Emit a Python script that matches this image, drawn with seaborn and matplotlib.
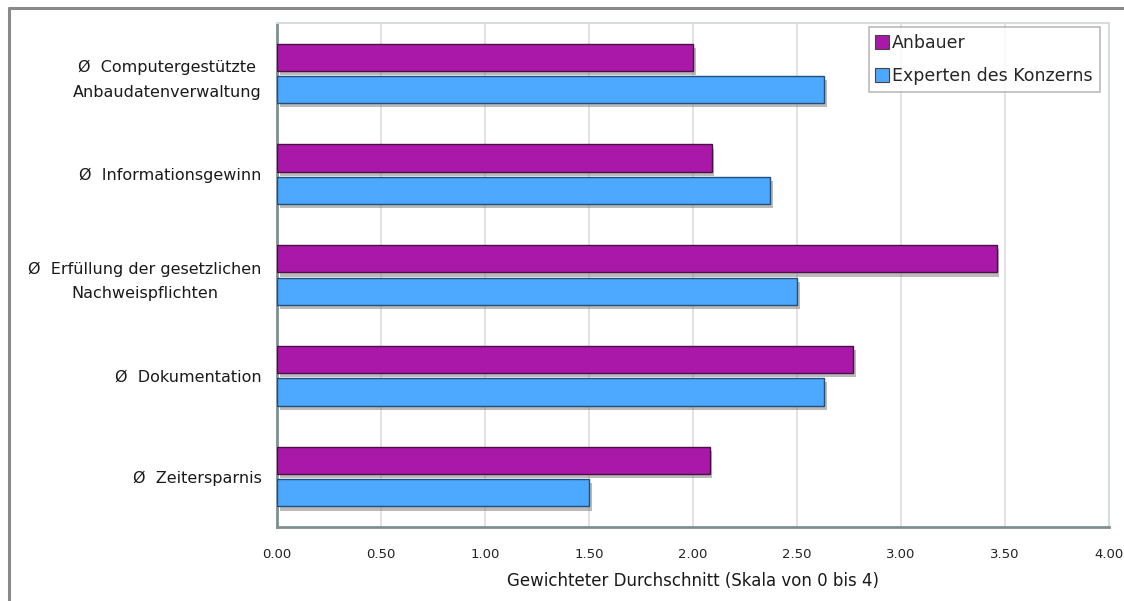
import matplotlib
matplotlib.use("Agg")
import matplotlib.pyplot as plt
import matplotlib.patheffects as pe
from matplotlib.lines import Line2D
from matplotlib.ticker import FixedLocator
import numpy as np
import pandas as pd
import seaborn as sns

# Weighted averages (scale 0 to 4) per category
categories = [
    "Ø  Computergestützte\nAnbaudatenverwaltung",
    "Ø  Informationsgewinn",
    "Ø  Erfüllung der gesetzlichen\nNachweispflichten",
    "Ø  Dokumentation",
    "Ø  Zeitersparnis",
]
groups = ["Anbauer", "Experten des Konzerns"]
anbauer = [2.00, 2.09, 3.46, 2.77, 2.08]
experten = [2.63, 2.37, 2.50, 2.63, 1.50]
x_ticks = [0.0, 0.5, 1.0, 1.5, 2.0, 2.5, 3.0, 3.5, 4.0]
x_label = "Gewichteter Durchschnitt (Skala von 0 bis 4)"

colors = {"Anbauer": "#AA18AA", "Experten des Konzerns": "#4DA8FF"}
edges = {"Anbauer": "#4a1044", "Experten des Konzerns": "#22507a"}

df = pd.DataFrame({
    "Kategorie": categories * 2,
    "Wert": anbauer + experten,
    "Gruppe": [groups[0]] * len(categories) + [groups[1]] * len(categories),
})

sns.set_style("white")
plt.rcParams["font.family"] = ["DejaVu Sans"]

fig = plt.figure(figsize=(11.24, 6.01), dpi=100)
ax = fig.add_axes([277 / 1124, 1 - 527 / 601, (1109 - 277) / 1124, (527 - 23) / 601])

sns.barplot(data=df, y="Kategorie", x="Wert", hue="Gruppe", orient="h",
            order=categories, hue_order=groups, palette=colors,
            width=0.64, ax=ax, legend=False, saturation=1)

# Slimmer bars with a drop shadow, keeping each bar's centre
shadow = [pe.SimplePatchShadow(offset=(2, -3), shadow_rgbFace="#8c8c8c", alpha=0.6),
          pe.Normal()]
for container, g in zip(ax.containers, groups):
    for bar in container:
        cy = bar.get_y() + bar.get_height() / 2
        h = 0.27
        bar.set_y(cy - h / 2)
        bar.set_height(h)
        bar.set_edgecolor(edges[g])
        bar.set_linewidth(1.0)
        bar.set_path_effects(shadow)
        bar.set_zorder(3)

ax.set_xlim(0, 4)
ax.set_ylim(4.5, -0.5)
ax.set_xticks(x_ticks)
ax.set_xticklabels([f"{v:.2f}" for v in x_ticks], fontsize=9.5, color="#222222")
ax.xaxis.grid(True, color="#dddddd", linewidth=1.2, zorder=0)
ax.set_axisbelow(True)

ax.set_yticks(range(len(categories)))
ax.set_yticklabels(categories, fontsize=11.5, color="#1a1a1a",
                   multialignment="center", linespacing=1.8)
ax.yaxis.set_minor_locator(FixedLocator(np.arange(-0.5, len(categories), 1.0)))
ax.tick_params(axis="y", which="major", length=0, pad=11)
ax.tick_params(axis="y", which="minor", length=4, width=1, color="#8a9a9a", direction="out")
ax.tick_params(axis="x", which="major", length=4, width=1, color="#8a9a9a", direction="out", pad=11)

ax.set_xlabel(x_label, fontsize=12, color="#1a1a1a", labelpad=8)
ax.set_ylabel("")

for side in ["left", "bottom"]:
    ax.spines[side].set_visible(True)
    ax.spines[side].set_color("#7f8f8f")
    ax.spines[side].set_linewidth(2)
for side in ["top", "right"]:
    ax.spines[side].set_visible(True)
    ax.spines[side].set_color("#d5dcdc")
    ax.spines[side].set_linewidth(1.5)

handles = [Line2D([0], [0], marker="s", linestyle="", markersize=10,
                  markerfacecolor=colors[g], markeredgecolor="#444444", markeredgewidth=0.8)
           for g in groups]
leg = ax.legend(handles, groups, loc="upper right", bbox_to_anchor=(0.989, 0.992),
                borderaxespad=0, fontsize=12.5, frameon=True, fancybox=False,
                handlelength=0.7, handletextpad=0.25, labelspacing=0.85,
                borderpad=0.4, edgecolor="#aaaaaa")
leg.get_frame().set_linewidth(1.2)
leg.set_zorder(5)

# Outer frame of the figure (left and top edges)
fig.add_artist(Line2D([9 / 1124, 9 / 1124], [0, 1 - 8 / 601], transform=fig.transFigure,
                      color="#8a8a8a", linewidth=2.2))
fig.add_artist(Line2D([9 / 1124, 1], [1 - 8 / 601, 1 - 8 / 601], transform=fig.transFigure,
                      color="#8a8a8a", linewidth=2.2))

fig.savefig("out.png", dpi=100)
